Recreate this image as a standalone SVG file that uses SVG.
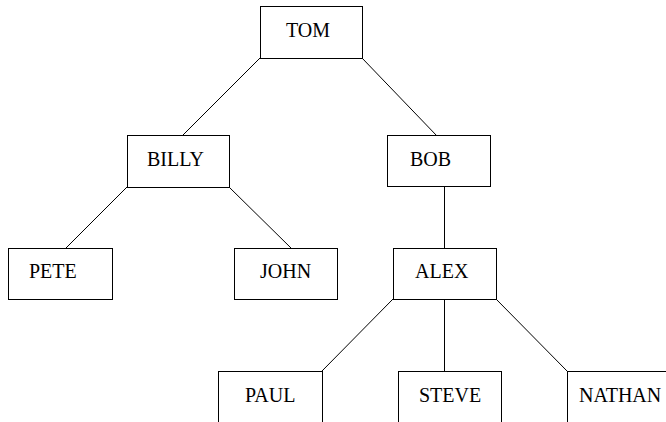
<svg xmlns="http://www.w3.org/2000/svg" width="666" height="422" viewBox="0 0 666 422">
<style>
rect{fill:#fff;stroke:#000;stroke-width:1}
text{font-family:"Liberation Serif","Times New Roman",serif;font-size:20px;fill:#000}
#connectors line{stroke:#000;stroke-width:1}
</style>
<rect x="0" y="0" width="666" height="422" style="stroke:none"/>
<g id="connectors">
<line x1="260" y1="58" x2="183" y2="135"/>
<line x1="362" y1="58" x2="437" y2="136"/>
<line x1="127" y1="187" x2="66" y2="248"/>
<line x1="229" y1="187" x2="291" y2="248"/>
<line x1="444.5" y1="186" x2="444.5" y2="248"/>
<line x1="393" y1="299" x2="322" y2="371"/>
<line x1="444.5" y1="299" x2="444.5" y2="371"/>
<line x1="496" y1="299" x2="567" y2="371"/>
</g>
<g id="tom"><rect x="260.5" y="6.5" width="102" height="52"/><text x="286" y="37">TOM</text></g>
<g id="billy"><rect x="127.5" y="135.5" width="102" height="52"/><text x="147" y="166">BILLY</text></g>
<g id="bob"><rect x="387.5" y="135.5" width="103" height="51"/><text x="410" y="166">BOB</text></g>
<g id="pete"><rect x="8.5" y="248.5" width="104" height="51"/><text x="29" y="278">PETE</text></g>
<g id="john"><rect x="234.5" y="248.5" width="103" height="51"/><text x="260" y="278">JOHN</text></g>
<g id="alex"><rect x="393.5" y="248.5" width="103" height="51"/><text x="415" y="278">ALEX</text></g>
<g id="paul"><rect x="218.5" y="371.5" width="104" height="70"/><text x="245" y="402">PAUL</text></g>
<g id="steve"><rect x="398.5" y="371.5" width="103" height="70"/><text x="419" y="402">STEVE</text></g>
<g id="nathan"><rect x="567.5" y="371.5" width="120" height="70"/><text x="579" y="402">NATHAN</text></g>
</svg>
